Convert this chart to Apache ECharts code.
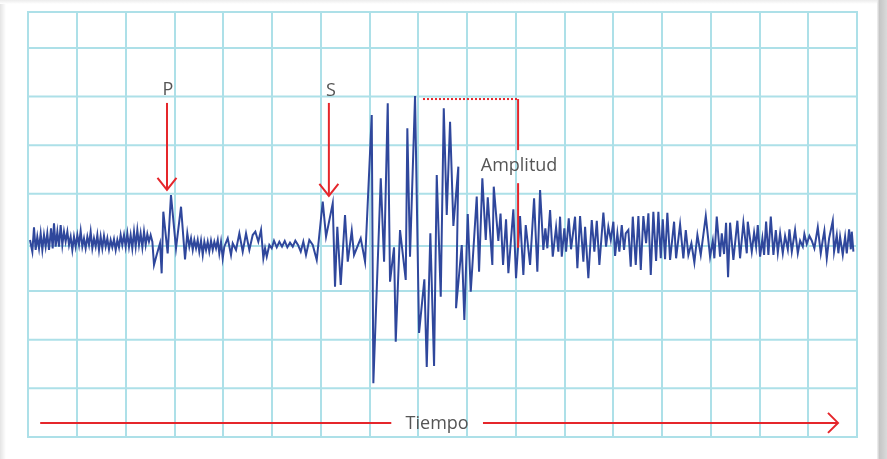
<!DOCTYPE html>
<html>
<head>
<meta charset="utf-8">
<script src="https://cdn.jsdelivr.net/npm/echarts@6/dist/echarts.min.js"></script>
<style>
html,body{margin:0;padding:0;background:#fff;}
#c{position:absolute;left:0;top:0;width:887px;height:459px;}
.edgeL{position:absolute;left:0;top:0;width:6px;height:459px;background:linear-gradient(to right,#e4e4e4,#ffffff);}
.edgeT{position:absolute;left:0;top:0;width:887px;height:4px;background:linear-gradient(to bottom,#ececec,#ffffff);}
.edgeR{position:absolute;left:877px;top:0;width:10px;height:459px;background:linear-gradient(to right,#f4f4f4,#c6c6c6 25%,#d2d2d2 70%,#dadada);}
</style>
</head>
<body>
<div id="c"></div>
<div class="edgeL"></div>
<div class="edgeT"></div>
<div class="edgeR"></div>
<script>
// time (10 units per grid column) / amplitude (10 units per grid row)
const noiseBeforeP = [[0.41,0.51],[0.89,-1.88],[1.23,3.12],[1.57,-1.54],[1.91,1.20],[2.26,-1.20],[2.60,1.88],[2.94,-1.54],[3.28,1.54],[3.62,-0.86],[3.96,1.88],[4.31,-1.54],[4.72,2.91],[5.06,-1.20],[5.33,3.94],[5.67,-0.86],[6.02,2.23],[6.36,-0.86],[6.70,3.60],[7.04,-0.51],[7.38,2.23],[7.72,0.17],[8.07,2.23],[8.41,-0.51],[8.75,1.20],[9.09,-1.54],[9.43,1.20],[9.77,-0.86],[10.12,1.54],[10.46,-0.51],[10.80,2.36],[11.14,-0.86],[11.48,0.86],[11.82,-1.20],[12.17,1.20],[12.51,-0.51],[12.85,2.23],[13.19,-1.20],[13.53,0.86],[13.88,-0.86],[14.22,1.54],[14.56,-1.54],[14.90,1.20],[15.24,-1.20],[15.58,1.34],[15.93,-0.86],[16.27,0.86],[16.61,-1.41],[16.95,0.51],[17.29,-0.99],[17.63,0.65],[17.98,-1.54],[18.32,0.51],[18.66,-0.99],[19.00,1.54],[19.34,-0.51],[19.69,1.54],[20.03,-0.86],[20.37,1.88],[20.71,-0.86],[21.05,1.54],[21.39,-1.20],[21.74,2.23],[22.08,-0.86],[22.42,2.57],[22.76,-0.51],[23.10,1.88],[23.45,-0.99],[23.79,2.23],[24.13,-0.51],[24.47,1.75],[24.81,0.17],[25.15,1.54],[25.50,0.17]];
const pWave = [[25.84,-4.63],[26.38,-2.57],[27.07,-0.17],[27.41,-6.34],[27.75,6.34],[28.64,-2.23],[29.32,9.77],[30.35,-1.19],[31.38,7.36],[32.20,-3.46],[32.67,1.89]];
const quietPS = [[33.08,-0.86],[33.43,0.86],[33.78,-1.54],[34.11,0.51],[34.46,-1.19],[34.80,0.51],[35.13,-1.89],[35.48,0.37],[35.83,-2.57],[36.16,0.16],[36.51,-1.54],[36.85,0.16],[37.18,-1.89],[37.53,0.37],[37.88,-1.54],[38.21,0.16],[38.56,-1.19],[38.91,0.51],[39.23,-2.22],[39.58,0.16],[39.93,-3.25],[40.26,-0.86],[40.96,0.86],[41.63,-2.57],[41.98,-0.16],[42.66,-1.54],[43.34,1.89],[44.03,-1.89],[44.71,1.89],[45.39,-1.54],[46.08,1.54],[46.62,2.22],[47.23,0.16],[47.79,2.57],[48.26,-3.25],[48.61,-1.19],[48.96,-2.92],[49.49,-0.51],[49.98,-1.19],[50.45,0.37],[51.01,-0.99],[51.54,0.16],[52.09,-0.86],[52.65,0.31],[53.18,-0.99],[53.73,-0.04],[54.29,-0.86],[54.82,0.37],[55.37,-0.51],[55.93,-1.89],[56.46,0.16],[57.01,-2.57],[57.69,0.51],[58.39,-0.51],[59.21,-3.60]];
const sWave = [[60.44,8.39],[61.12,1.19],[62.49,8.06],[62.96,-9.09],[63.43,3.25],[64.13,-8.74],[65.01,5.66],[65.57,-3.95],[66.39,2.43],[66.86,-2.57],[68.23,0.86],[69.12,-3.95]];
const mainShock = [[70.49,26.22],[70.82,-28.96],[72.34,13.20],[73.02,-3.95],[73.77,28.63],[74.24,-8.06],[75.06,-0.99],[75.41,-20.40],[76.29,2.57],[77.46,-7.71],[77.79,23.49],[78.34,-2.92],[79.37,30.13],[80.19,-18.61],[81.28,-7.57],[81.77,-25.60],[82.51,1.89],[83.27,-25.40],[83.82,13.88],[84.64,-11.15],[85.26,27.60],[85.87,5.66],[86.55,24.84],[87.23,3.39],[88.25,15.59],[87.78,-13.53],[88.95,-0.51],[89.48,-15.94],[90.18,5.86],[90.79,-10.12],[92.02,9.46],[92.50,-6.01],[93.17,13.20],[93.87,0.51],[94.28,9.30],[95.22,-4.63],[95.51,11.48],[96.45,0.31]];
const coda = [[96.90,5.96],[97.42,-4.63],[98.03,4.77],[98.51,-6.33],[99.53,6.83],[100.08,-7.36],[100.90,5.45],[101.58,-6.68],[102.07,3.60],[102.96,-4.63],[103.78,9.09],[104.45,-6.01],[105.01,10.80],[105.68,-1.54],[106.09,2.92],[106.50,-1.19],[107.06,6.68],[107.61,-2.92],[108.29,3.13],[108.76,-1.89],[109.11,5.31],[109.46,-2.92],[109.99,2.92],[110.34,-1.89],[110.89,4.98],[111.36,-1.40],[112.18,5.31],[112.66,-5.31],[113.21,5.45],[113.89,-3.95],[114.24,3.25],[114.91,-7.36],[115.61,4.63],[116.14,-1.89],[116.64,4.48],[117.17,-4.63],[117.99,6.13],[118.54,-0.86],[119.01,3.25],[119.51,0.51],[120.04,4.28],[120.39,-2.78],[120.86,1.89],[121.27,-1.89],[121.76,3.60],[122.23,-1.54],[122.58,1.89],[123.11,2.57],[123.60,-4.98],[124.02,5.31],[124.63,-4.63],[125.17,5.45],[125.66,-5.66],[126.19,5.45],[126.75,-0.16],[127.22,6.01],[127.71,-6.68],[128.24,6.33],[128.80,-3.80],[129.27,6.33],[129.76,-3.25],[130.17,4.77],[130.64,-3.46],[131.11,6.13],[131.67,-3.60],[132.49,4.28],[132.90,-3.25],[133.72,3.74],[134.39,-3.25],[134.89,2.57],[135.42,-2.57],[136.04,-0.16],[136.65,-4.15],[137.27,1.54],[137.96,-2.57],[138.99,5.45],[139.87,-2.92],[140.43,0.37],[140.75,-3.25],[141.24,5.31],[141.92,-2.92],[142.27,1.89],[142.74,-2.37],[143.15,4.07],[143.56,-7.16],[143.97,4.07],[144.65,-3.60],[145.47,4.48],[146.02,-3.25],[146.70,4.07],[147.40,-2.22],[147.60,4.28],[148.42,-1.89],[148.90,2.02],[149.31,-0.86],[149.65,3.60],[150.13,-2.92],[150.60,0.86],[150.95,-2.57],[151.36,4.28],[151.83,-2.57],[152.32,5.31],[152.86,-2.57],[153.35,2.57],[153.76,-2.10],[154.23,1.89],[154.78,-2.22],[155.25,1.34],[155.81,-1.40],[156.14,2.71],[156.63,-1.89],[157.30,2.57],[157.86,-2.22],[158.33,0.37],[158.88,-0.86],[159.21,1.75],[159.70,-0.31],[160.24,1.34],[160.73,0.37],[161.26,-1.19],[161.96,3.13],[162.57,-2.22],[162.98,0.51],[163.31,2.43],[163.80,-3.25],[164.28,0.86],[165.03,4.48],[165.30,-1.89],[165.85,1.54],[166.18,-2.22],[166.53,1.19],[167.08,-2.57],[167.56,1.19],[167.90,-2.22],[168.38,2.71],[168.73,-1.40],[168.93,2.22],[169.26,-1.89]];

// grid row levels (amplitude units)
const gridRows = [40, 30, 20, 10, -0.7, -10, -20, -30];

// annotations (data units)
const phaseArrows = [[28.5, 28.7, 10.8], [61.7, 28.7, 9.6]];          // time, top, tip
const amplitudeMark = [[81.0, 100.5, 29.5, 19.0, 12.2, -1.1]];        // t0, t1, level, gapTop, gapBottom, base
const timeArrow = [[2.5, 74.5, 93.3, 166.1, -37.1]];                  // start, gapStart, gapEnd, end, level
const labelPos = [[28.7, 31.4], [62.1, 31.2], [100.7, 15.7], [83.9, -37.3]];
const labelText = ['P', 'S', 'Amplitud', 'Tiempo'];

const GRID_C = '#ade0e8';
const RED = '#e5262b';
const WAVE_C = '#2f479c';
const TEXT_C = '#555555';

const wave = [].concat(noiseBeforeP, pWave, quietPS, sWave, mainShock, coda);

const chart = echarts.init(document.getElementById('c'));
chart.setOption({
  animation: false,
  backgroundColor: 'transparent',
  grid: {left: 28, right: 30, top: 12, bottom: 22, show: true, borderColor: GRID_C, borderWidth: 2, backgroundColor: '#ffffff'},
  xAxis: {type: 'value', min: 0, max: 170, interval: 10,
    axisLine: {show: false}, axisTick: {show: false}, axisLabel: {show: false},
    splitLine: {show: true, lineStyle: {color: GRID_C, width: 2}}},
  yAxis: {type: 'value', min: -40, max: 47.4,
    axisLine: {show: false}, axisTick: {show: false}, axisLabel: {show: false},
    splitLine: {show: false}},
  series: [
    {
      type: 'custom', z: 1, silent: true, clip: false,
      data: gridRows.map(v => [0, v]),
      renderItem: (p, api) => {
        const y = api.coord([0, api.value(1)])[1];
        const cs = p.coordSys;
        return {type: 'line', shape: {x1: cs.x, y1: y, x2: cs.x + cs.width, y2: y},
          style: {stroke: GRID_C, lineWidth: 2}};
      }
    },
    {
      type: 'line', z: 3, silent: true, data: wave, symbol: 'none', clip: false,
      lineStyle: {color: WAVE_C, width: 2, join: 'miter', miterLimit: 10}
    },
    {
      type: 'custom', z: 4, silent: true, clip: false,
      data: phaseArrows, encode: {x: 0, y: [1, 2]},
      renderItem: (p, api) => {
        const top = api.coord([api.value(0), api.value(1)]);
        const tip = api.coord([api.value(0), api.value(2)]);
        return {type: 'group', children: [
          {type: 'line', shape: {x1: top[0], y1: top[1], x2: tip[0], y2: tip[1]}, style: {stroke: RED, lineWidth: 2}},
          {type: 'polyline', shape: {points: [[tip[0] - 9.5, tip[1] - 12], [tip[0], tip[1]], [tip[0] + 9.5, tip[1] - 12]]},
            style: {stroke: RED, lineWidth: 2, fill: null}}
        ]};
      }
    },
    {
      type: 'custom', z: 4, silent: true, clip: false,
      data: amplitudeMark, encode: {x: [0, 1], y: [2, 3, 4, 5]},
      renderItem: (p, api) => {
        const a = api.coord([api.value(0), api.value(2)]);
        const b = api.coord([api.value(1), api.value(2)]);
        const g1 = api.coord([api.value(1), api.value(3)]);
        const g2 = api.coord([api.value(1), api.value(4)]);
        const base = api.coord([api.value(1), api.value(5)]);
        return {type: 'group', children: [
          {type: 'line', shape: {x1: a[0], y1: a[1], x2: b[0], y2: b[1]}, style: {stroke: RED, lineWidth: 2, lineDash: [2, 2]}},
          {type: 'line', shape: {x1: b[0], y1: b[1], x2: g1[0], y2: g1[1]}, style: {stroke: RED, lineWidth: 2}},
          {type: 'line', shape: {x1: g2[0], y1: g2[1], x2: base[0], y2: base[1]}, style: {stroke: RED, lineWidth: 2}}
        ]};
      }
    },
    {
      type: 'custom', z: 4, silent: true, clip: false,
      data: timeArrow, encode: {x: [0, 1, 2, 3], y: 4},
      renderItem: (p, api) => {
        const lv = api.value(4);
        const s = api.coord([api.value(0), lv]);
        const g1 = api.coord([api.value(1), lv]);
        const g2 = api.coord([api.value(2), lv]);
        const e = api.coord([api.value(3), lv]);
        return {type: 'group', children: [
          {type: 'line', shape: {x1: s[0], y1: s[1], x2: g1[0], y2: g1[1]}, style: {stroke: RED, lineWidth: 2}},
          {type: 'line', shape: {x1: g2[0], y1: g2[1], x2: e[0], y2: e[1]}, style: {stroke: RED, lineWidth: 2}},
          {type: 'polyline', shape: {points: [[e[0] - 10, e[1] - 10], [e[0], e[1]], [e[0] - 10, e[1] + 10]]},
            style: {stroke: RED, lineWidth: 2, fill: null}}
        ]};
      }
    },
    {
      type: 'custom', z: 5, silent: true, clip: false,
      data: labelPos,
      renderItem: (p, api) => {
        const pt = api.coord([api.value(0), api.value(1)]);
        return {type: 'text', x: pt[0], y: pt[1],
          style: {text: labelText[p.dataIndex], fill: TEXT_C, font: '18px "Open Sans", sans-serif',
            align: 'center', verticalAlign: 'middle', textAlign: 'center', textVerticalAlign: 'middle'}};
      }
    }
  ]
});
</script>
</body>
</html>
